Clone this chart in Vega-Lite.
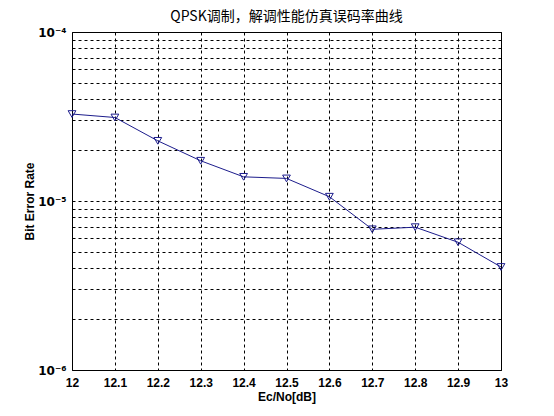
{
  "$schema": "https://vega.github.io/schema/vega-lite/v6.json",
  "width": 429,
  "height": 338,
  "autosize": "none",
  "padding": {"left": 72, "top": 32, "right": 53, "bottom": 46},
  "background": "white",
  "title": {
    "text": "QPSK调制，解调性能仿真误码率曲线",
    "font": "Noto Sans CJK SC",
    "fontSize": 14,
    "fontWeight": "normal",
    "color": "black",
    "offset": 2,
    "anchor": "middle"
  },
  "config": {
    "view": {"stroke": "black", "strokeWidth": 1},
    "axis": {
      "labelFont": "Liberation Sans",
      "labelFontWeight": "bold",
      "labelFontSize": 12,
      "labelColor": "black",
      "titleFont": "Liberation Sans",
      "titleFontWeight": "bold",
      "titleFontSize": 12,
      "titleColor": "black",
      "ticks": false,
      "domain": false,
      "grid": true,
      "gridColor": "black",
      "gridDash": [3, 3],
      "gridWidth": 1,
      "gridOpacity": 1
    }
  },
  "data": {
    "values": [
      {"snr": 12.0, "ber": 3.27e-5},
      {"snr": 12.1, "ber": 3.12e-5},
      {"snr": 12.2, "ber": 2.27e-5},
      {"snr": 12.3, "ber": 1.73e-5},
      {"snr": 12.4, "ber": 1.39e-5},
      {"snr": 12.5, "ber": 1.36e-5},
      {"snr": 12.6, "ber": 1.06e-5},
      {"snr": 12.7, "ber": 6.8e-6},
      {"snr": 12.8, "ber": 7.0e-6},
      {"snr": 12.9, "ber": 5.7e-6},
      {"snr": 13.0, "ber": 4.07e-6}
    ]
  },
  "encoding": {
    "x": {
      "field": "snr",
      "type": "quantitative",
      "scale": {"domain": [12, 13], "nice": false, "zero": false},
      "axis": {
        "title": "Ec/No[dB]",
        "values": [12, 12.1, 12.2, 12.3, 12.4, 12.5, 12.6, 12.7, 12.8, 12.9, 13],
        "labelExpr": "format(datum.value, '~g')",
        "labelPadding": 7,
        "titlePadding": 3,
        "labelFlush": false,
        "labelOverlap": false
      }
    },
    "y": {
      "field": "ber",
      "type": "quantitative",
      "scale": {"type": "log", "domain": [1e-6, 1e-4], "nice": false},
      "axis": {
        "title": "Bit Error Rate",
        "values": [1e-6, 2e-6, 3e-6, 4e-6, 5e-6, 6e-6, 7e-6, 8e-6, 9e-6, 1e-5, 2e-5, 3e-5, 4e-5, 5e-5, 6e-5, 7e-5, 8e-5, 9e-5, 1e-4],
        "labelExpr": "datum.value == 0.000001 ? '10⁻⁶' : datum.value == 0.00001 ? '10⁻⁵' : datum.value == 0.0001 ? '10⁻⁴' : ''",
        "labelFont": "DejaVu Sans",
        "labelFontSize": 12,
        "labelPadding": 6,
        "titlePadding": 1,
        "labelFlush": false,
        "labelOverlap": false
      }
    }
  },
  "layer": [
    {"mark": {"type": "line", "color": "#1c1c8c", "strokeWidth": 1}},
    {"mark": {"type": "point", "shape": "triangle-down", "filled": false, "color": "#1c1c8c", "size": 60, "strokeWidth": 1, "opacity": 1}}
  ]
}
